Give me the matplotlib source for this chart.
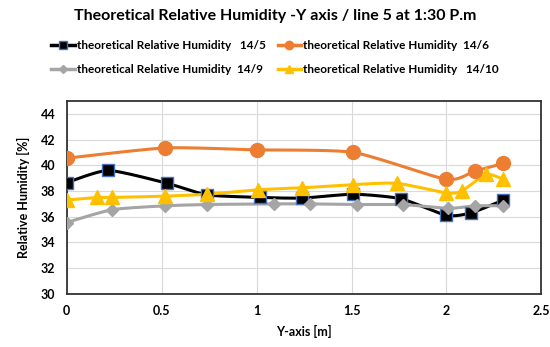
import numpy as np
import matplotlib
matplotlib.use("Agg")
import matplotlib.pyplot as plt
from matplotlib.lines import Line2D

plt.rcParams['font.family'] = ['Lato', 'DejaVu Sans']
plt.rcParams['font.weight'] = 'bold'

# readings along the Y axis of line 5
x_145 = [0, 0.22, 0.53, 0.74, 1.02, 1.24, 1.51, 1.76, 2.0, 2.13, 2.3]
rh_145 = [38.65, 39.6, 38.6, 37.7, 37.5, 37.45, 37.75, 37.4, 36.1, 36.3, 37.3]

x_146 = [0, 0.52, 1.0, 1.51, 2.0, 2.15, 2.3]
rh_146 = [40.55, 41.35, 41.2, 41.0, 38.9, 39.55, 40.15]

x_149 = [0, 0.24, 0.52, 0.74, 1.09, 1.28, 1.53, 1.77, 2.01, 2.15, 2.3]
rh_149 = [35.55, 36.55, 36.85, 36.95, 37.0, 37.0, 36.95, 36.95, 36.65, 36.85, 36.85]

x_1410 = [0, 0.16, 0.24, 0.52, 0.74, 1.01, 1.24, 1.51, 1.74, 2.0, 2.08, 2.21, 2.3]
rh_1410 = [37.3, 37.5, 37.5, 37.6, 37.75, 38.1, 38.25, 38.5, 38.6, 37.85, 38.0, 39.3, 38.9]

labels = ["theoretical Relative Humidity   14/5",
          "theoretical Relative Humidity  14/6",
          "theoretical Relative Humidity  14/9",
          "theoretical Relative Humidity   14/10"]


def smooth(x, y, n=20):
    # Catmull-Rom style curve through the points (like Excel smoothed lines)
    x = np.asarray(x, float)
    y = np.asarray(y, float)
    px = np.concatenate([[x[0]], x, [x[-1]]])
    py = np.concatenate([[y[0]], y, [y[-1]]])
    xs, ys = [], []
    for i in range(1, len(px) - 2):
        t = np.linspace(0, 1, n, endpoint=False)
        for arr, out in ((px, xs), (py, ys)):
            p0, p1, p2, p3 = arr[i - 1], arr[i], arr[i + 1], arr[i + 2]
            m1 = (p2 - p0) / 2 * 0.6
            m2 = (p3 - p1) / 2 * 0.6
            h00 = 2 * t**3 - 3 * t**2 + 1
            h10 = t**3 - 2 * t**2 + t
            h01 = -2 * t**3 + 3 * t**2
            h11 = t**3 - t**2
            out.extend(h00 * p1 + h10 * m1 + h01 * p2 + h11 * m2)
    xs.append(x[-1])
    ys.append(y[-1])
    return xs, ys


fig = plt.figure(figsize=(5.5, 3.47), dpi=100)
ax = fig.add_axes([0.121, 0.153, 0.8635, 0.556])

styles = [
    (x_145, rh_145, dict(color='black', marker='s', ms=8.5, mfc='black', mec='#4472C4', mew=1.0)),
    (x_146, rh_146, dict(color='#ED7D31', marker='o', ms=10, mfc='#ED7D31', mec='#ED7D31')),
    (x_149, rh_149, dict(color='#A5A5A5', marker='D', ms=6.5, mfc='#A5A5A5', mec='#A5A5A5')),
    (x_1410, rh_1410, dict(color='#FFC000', marker='^', ms=10, mfc='#FFC000', mec='#FFC000')),
]

handles = []
for (xv, yv, st), lab in zip(styles, labels):
    sx, sy = smooth(xv, yv)
    ax.plot(sx, sy, color=st['color'], lw=2.2, zorder=2)
    ax.plot(xv, yv, ls='none', marker=st['marker'], ms=st['ms'], mfc=st['mfc'],
            mec=st['mec'], mew=st.get('mew', 1), zorder=3)
    handles.append(Line2D([], [], color=st['color'], lw=2.5, marker=st['marker'],
                          ms=st['ms'] * 0.6, mfc=st['mfc'], mec=st['mec'], label=lab))

ax.set_xlim(0, 2.5)
ax.set_ylim(30, 45)
ax.set_xticks([0, 0.5, 1, 1.5, 2, 2.5])
ax.set_xticklabels(['0', '0.5', '1', '1.5', '2', '2.5'])
ax.set_yticks(range(30, 45, 2))
ax.grid(True, color='#D9D9D9', lw=0.8)
ax.set_axisbelow(True)
for s in ax.spines.values():
    s.set_color('#333333')
    s.set_linewidth(1.3)
ax.tick_params(length=0, labelsize=9, pad=8)
for lbl in ax.get_xticklabels() + ax.get_yticklabels():
    lbl.set_fontweight('bold')
ax.set_xlabel('Y-axis [m]', fontsize=9, fontweight='bold', labelpad=6)
ax.set_ylabel('Relative Humidity [%]', fontsize=9, fontweight='bold', labelpad=8)

fig.text(0.5, 0.955, 'Theoretical Relative Humidity -Y axis / line 5 at 1:30 P.m',
         ha='center', va='center', fontsize=11.5, fontweight='bold')

order = [0, 2, 1, 3]
fig.legend([handles[i] for i in order], [labels[i] for i in order], ncol=2,
           loc='center', bbox_to_anchor=(0.5, 0.833), frameon=False,
           prop={'size': 8.5, 'weight': 'bold'}, handlelength=2.0,
           handletextpad=0.15, columnspacing=1.0, labelspacing=1.1)

fig.savefig('out.png', dpi=100)
